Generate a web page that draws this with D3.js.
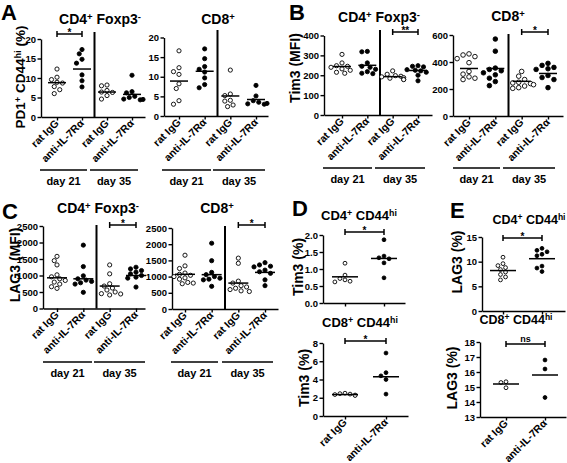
<!DOCTYPE html>
<html><head><meta charset="utf-8">
<script src="https://cdn.jsdelivr.net/npm/d3@7/dist/d3.min.js"></script>
<style>
body{margin:0;background:#fff}
svg{display:block}
text{font-family:"Liberation Sans",Arial,sans-serif;font-weight:bold;fill:#000}
</style>
</head><body>
<svg id="c" width="567" height="463"></svg>
<script>
// ---------- categories / labels ----------
const groups4 = ["rat IgG","anti-IL-7R\u03b1","rat IgG","anti-IL-7R\u03b1"];
const groups2 = ["rat IgG","anti-IL-7R\u03b1"];
const days = ["day 21","day 35"];

// ---------- Panel A : PD1+ CD44hi (%) ----------
const ticksA = [0,5,10,15,20];
const aCD4 = [
  [12.3,10.2,9.6,8.9,8.7,7.8,7.0,6.0],
  [17.3,16.2,14.8,13.8,10.8,9.3,7.7],
  [8.2,8.0,6.8,6.4,6.3,5.5,4.6],
  [10.7,6.5,6.2,5.3,5.0,4.6,4.4,4.5]
];
const aCD4Mean = [8.8,12.3,6.4,5.8];
const aCD8 = [
  [16.6,12.3,11.3,10.6,8.2,7.0,3.9,3.0],
  [17.1,14.6,12.6,11.9,11.2,9.7,8.0,7.2],
  [11.7,5.6,5.2,4.0,3.8,2.8,2.4],
  [7.8,5.1,3.9,3.5,3.1,3.0,3.2]
];
const aCD8Mean = [8.9,11.4,5.1,4.2];

// ---------- Panel B : Tim3 (MFI) ----------
const ticksB4 = [0,100,200,300,400];
const bCD4 = [
  [305,262,248,245,240,232,225,215,210],
  [320,318,262,245,240,230,218,210,208],
  [222,205,198,195,192,188,185,180,178],
  [248,245,242,228,225,222,215,200,172]
];
const bCD4Mean = [244,250,193,224];
const ticksB8 = [0,200,400,600];
const bCD8 = [
  [460,452,440,425,395,330,310,290,280,270],
  [570,480,355,345,335,320,305,280,255,225],
  [330,295,270,250,245,240,232,222,210,205],
  [390,375,360,350,345,300,285,270,210]
];
const bCD8Mean = [352,352,257,315];

// ---------- Panel C : LAG3 (MFI) ----------
const ticksC = [0,500,1000,1500,2000,2500];
const cCD4 = [
  [1580,1450,1320,1020,960,900,850,800,740,660,610],
  [1920,1270,990,900,860,820,780,740,490],
  [1320,1050,750,680,620,560,500,450,410,440],
  [1250,1200,1150,1100,1050,1000,950,920,650]
];
const cCD4Mean = [930,900,680,1000];
const cCD8 = [
  [1660,1330,1250,1110,1070,1040,1000,960,920,820,800,780],
  [2030,1490,1130,1060,1000,950,920,900,700],
  [1570,1410,860,800,720,680,640,600,560,540],
  [1430,1360,1320,1300,1200,1150,1100,900,720]
];
const cCD8Mean = [1071,1060,800,1130];

// ---------- Panel D : Tim3 (%) ----------
const ticksD4 = [0,0.5,1,1.5,2];
const dCD4 = [[1.17,0.82,0.72,0.68,0.64,0.62],[1.86,1.38,1.33,1.30,1.18,0.74]];
const dCD4Mean = [0.77,1.31];
const ticksD8 = [0,2,4,6,8];
const dCD8 = [[2.5,2.45,2.4,2.35,2.3,2.25],[6.9,4.75,4.4,4.0,2.4]];
const dCD8Mean = [2.35,4.3];

// ---------- Panel E : LAG3 (%) ----------
const ticksE4 = [0,5,10,15];
const eCD4 = [[10.9,9.6,9.2,8.8,8.4,7.9,7.4,6.9,6.3],[12.7,12.3,12.0,11.5,11.2,9.1,8.7,8.0]];
const eCD4Mean = [8.2,10.6];
const ticksE8 = [13,14,15,16,17,18];
const eCD8 = [[15.35,15.3,14.95],[16.8,16.2,14.3]];
const eCD8Mean = [15.2,15.8];

// ---------- drawing ----------
const svg = d3.select("#c");

function rich(sel, parts){
  let prevSup = false;
  parts.forEach(([t,sup])=>{
    const ts = sel.append("tspan").text(t);
    if(sup && !prevSup){ ts.attr("dy","-0.45em").attr("font-size","68%"); }
    else if(sup){ ts.attr("font-size","68%"); }
    else if(!sup && prevSup){ ts.attr("dy","0.31em"); }
    prevSup = sup;
  });
}

function swarm(ys, r){
  const placed=[], out=[];
  const step = 2*r+0.8;
  const cands=[0,-1,1,-2,2,-3,3,-4,4].map(k=>k*step*0.55);
  ys.forEach((y)=>{
    let chosen = cands[cands.length-1];
    for(const dx of cands){
      if(placed.every(p=>(p.dx-dx)**2+(p.y-y)**2 >= (2*r+0.6)**2)){chosen=dx;break;}
    }
    placed.push({dx:chosen,y}); out.push(chosen);
  });
  return out;
}

function plot(cfg){
  const y = d3.scaleLinear().domain([cfg.ticks[0], cfg.ticks[cfg.ticks.length-1]]).range([cfg.y0, cfg.yTop]);
  const n = cfg.data.length;
  const x = d3.scaleLinear().domain([0,n-1]).range(cfg.xr);
  const ga = svg.append("g").attr("transform",`translate(${cfg.ax},0)`)
    .call(d3.axisLeft(y).tickValues(cfg.ticks).tickSize(3.5).tickSizeOuter(0).tickPadding(1.5)
      .tickFormat(cfg.fmt || d3.format("d")));
  ga.selectAll("path,line").attr("stroke","#000").attr("stroke-width",1.4);
  ga.selectAll("text").attr("font-size",9.5).attr("font-family",'"Liberation Sans",Arial,sans-serif').attr("font-weight","bold");
  const xa = x.copy().domain([x.invert(cfg.ax), x.invert(cfg.xEnd)]).range([cfg.ax, cfg.xEnd]);
  const gb = svg.append("g").attr("transform",`translate(0,${cfg.y0})`)
    .call(d3.axisBottom(xa).tickValues(d3.range(n)).tickSize(3.5).tickSizeOuter(0).tickFormat(""));
  gb.selectAll("path,line").attr("stroke","#000").attr("stroke-width",1.4);
  if(n===4){
    const sx = (x(1)+x(2))/2;
    svg.append("line").attr("x1",sx).attr("x2",sx).attr("y1",cfg.sepTop).attr("y2",cfg.y0)
      .attr("stroke","#000").attr("stroke-width",2);
  }
  const r = cfg.r || 2.1;
  cfg.data.forEach((vals,i)=>{
    const open = cfg.labels[i]==="rat IgG";
    const ys = vals.map(v=>y(v));
    const dxs = swarm(ys, r);
    vals.forEach((v,k)=>{
      svg.append("circle").attr("cx",x(i)+dxs[k]).attr("cy",ys[k]).attr("r",r)
        .attr("fill",open?"#fff":"#000").attr("stroke","#000").attr("stroke-width",0.9);
    });
    svg.append("line").attr("x1",x(i)-cfg.mw).attr("x2",x(i)+cfg.mw)
      .attr("y1",y(cfg.means[i])).attr("y2",y(cfg.means[i]))
      .attr("stroke","#000").attr("stroke-width",1.5);
  });
  if(cfg.sig){
    const [i,j,lab,sy] = cfg.sig;
    const g = svg.append("g").attr("stroke","#000").attr("stroke-width",1.5);
    g.append("line").attr("x1",x(i)).attr("x2",x(j)).attr("y1",sy).attr("y2",sy);
    g.append("line").attr("x1",x(i)).attr("x2",x(i)).attr("y1",sy-3).attr("y2",sy+3);
    g.append("line").attr("x1",x(j)).attr("x2",x(j)).attr("y1",sy-3).attr("y2",sy+3);
    svg.append("text").attr("x",(x(i)+x(j))/2).attr("y", lab==="ns"? sy-2.5 : sy+2)
      .attr("text-anchor","middle").attr("font-size", lab==="ns"?9:10).text(lab);
  }
  if(cfg.xlabels){
    cfg.labels.forEach((lab,i)=>{
      const tx = x(i)+2.5, ty = cfg.y0+7;
      svg.append("text").attr("transform",`translate(${tx},${ty}) rotate(-45)`)
        .attr("text-anchor","end").attr("font-size",10.5).text(lab);
    });
  }
  if(cfg.dayLines){
    cfg.dayLines.forEach(([a,b],k)=>{
      svg.append("line").attr("x1",a).attr("x2",b).attr("y1",cfg.dayY).attr("y2",cfg.dayY)
        .attr("stroke","#000").attr("stroke-width",1.3);
      svg.append("text").attr("x",(a+b)/2).attr("y",cfg.dayY+15).attr("text-anchor","middle")
        .attr("font-size",11).text(days[k]);
    });
  }
  const tt = svg.append("text").attr("x",cfg.title.x).attr("y",cfg.title.y)
    .attr("text-anchor","middle").attr("font-size",cfg.title.fs||14);
  rich(tt, cfg.title.parts);
  if(cfg.ylab){
    const yl = svg.append("text").attr("transform",`translate(${cfg.ylab.x},${cfg.ylab.y}) rotate(-90)`)
      .attr("text-anchor","middle").attr("font-size",cfg.ylab.fs||14);
    rich(yl, cfg.ylab.parts);
  }
}

const tCD4Fox = [["CD4",false],["+",true],[" Foxp3",false],["-",true]];
const tCD8 = [["CD8",false],["+",true]];
const tCD4hi = [["CD4",false],["+",true],[" CD44",false],["hi",true]];
const tCD8hi = [["CD8",false],["+",true],[" CD44",false],["hi",true]];

[["A",1,20],["B",289,20],["C",2,219],["D",292,216],["E",450,218]].forEach(([l,x,y])=>{
  svg.append("text").attr("x",x).attr("y",y).attr("font-size",22).text(l);
});

// A
plot({data:aCD4, means:aCD4Mean, labels:groups4, ticks:ticksA, ax:41, xEnd:145, y0:117, yTop:39,
  xr:[57,132], sepTop:32, mw:9, sig:[0,1,"*",34], xlabels:true,
  dayLines:[[40,87],[90,138]], dayY:170,
  title:{x:100,y:24,parts:tCD4Fox},
  ylab:{x:25,y:77,fs:13.5,parts:[["PD1",false],["+",true],[" CD44",false],["hi",true],[" (%)",false]]}});
plot({data:aCD8, means:aCD8Mean, labels:groups4, ticks:ticksA, ax:164, xEnd:268, y0:116, yTop:37.5,
  xr:[179,256], sepTop:30, mw:9, xlabels:true,
  dayLines:[[162,211],[213,265]], dayY:170,
  title:{x:218,y:24,parts:tCD8}});
// B
plot({data:bCD4, means:bCD4Mean, labels:groups4, ticks:ticksB4, ax:324, xEnd:432, y0:115, yTop:35.5,
  xr:[342,418], sepTop:30, mw:9, sig:[2,3,"**",32], xlabels:true,
  dayLines:[[323,372],[375,425]], dayY:168,
  title:{x:379,y:22,parts:tCD4Fox},
  ylab:{x:300,y:68,parts:[["Tim3 (MFI)",false]]}});
plot({data:bCD8, means:bCD8Mean, labels:groups4, ticks:ticksB8, ax:453, xEnd:563, y0:116, yTop:35,
  xr:[469,548], sepTop:34, mw:9, sig:[2,3,"*",32], xlabels:true, r:2.3,
  dayLines:[[453,500],[503,555]], dayY:168,
  title:{x:508,y:21,parts:tCD8}});
// C
plot({data:cCD4, means:cCD4Mean, labels:groups4, ticks:ticksC, ax:43, xEnd:145, y0:308.5, yTop:226,
  xr:[57,136], sepTop:225, mw:10, sig:[2,3,"*",225], xlabels:true,
  dayLines:[[43,92],[94,145]], dayY:362,
  title:{x:98,y:213,parts:tCD4Fox},
  ylab:{x:20,y:265,parts:[["LAG3 (MFI)",false]]}});
plot({data:cCD8, means:cCD8Mean, labels:groups4, ticks:ticksC, ax:172, xEnd:278, y0:309, yTop:228,
  xr:[185,265], sepTop:226, mw:10, sig:[2,3,"*",225], xlabels:true,
  dayLines:[[171,218],[222,273]], dayY:362,
  title:{x:217,y:213,parts:tCD8}});
// D
plot({data:dCD4, means:dCD4Mean, labels:groups2, ticks:ticksD4, ax:323, xEnd:405, y0:303, yTop:235,
  xr:[345,384], mw:13, sig:[0,1,"*",232], fmt:d3.format(".1f"), r:1.9,
  title:{x:359,y:220,parts:tCD4hi,fs:13},
  ylab:{x:303,y:267,parts:[["Tim3 (%)",false]]}});
plot({data:dCD8, means:dCD8Mean, labels:groups2, ticks:ticksD8, ax:323, xEnd:408, y0:416, yTop:343,
  xr:[345,386], mw:13, sig:[0,1,"*",341], xlabels:true, r:1.9,
  title:{x:360,y:327,parts:tCD8hi,fs:13},
  ylab:{x:309,y:378,parts:[["Tim3 (%)",false]]}});
// E
plot({data:eCD4, means:eCD4Mean, labels:groups2, ticks:ticksE4, ax:482, xEnd:565, y0:311, yTop:237,
  xr:[503,542], mw:13, sig:[0,1,"*",238], r:1.9,
  title:{x:529,y:224,parts:tCD4hi,fs:12.5},
  ylab:{x:462,y:262,parts:[["LAG3 (%)",false]]}});
plot({data:eCD8, means:eCD8Mean, labels:groups2, ticks:ticksE8, ax:480, xEnd:566, y0:417, yTop:342,
  xr:[506,545], mw:13, sig:[0,1,"ns",344], xlabels:true, r:1.9,
  title:{x:516,y:324,parts:tCD8hi,fs:12.5},
  ylab:{x:457,y:378,parts:[["LAG3 (%)",false]]}});
</script>
</body></html>
